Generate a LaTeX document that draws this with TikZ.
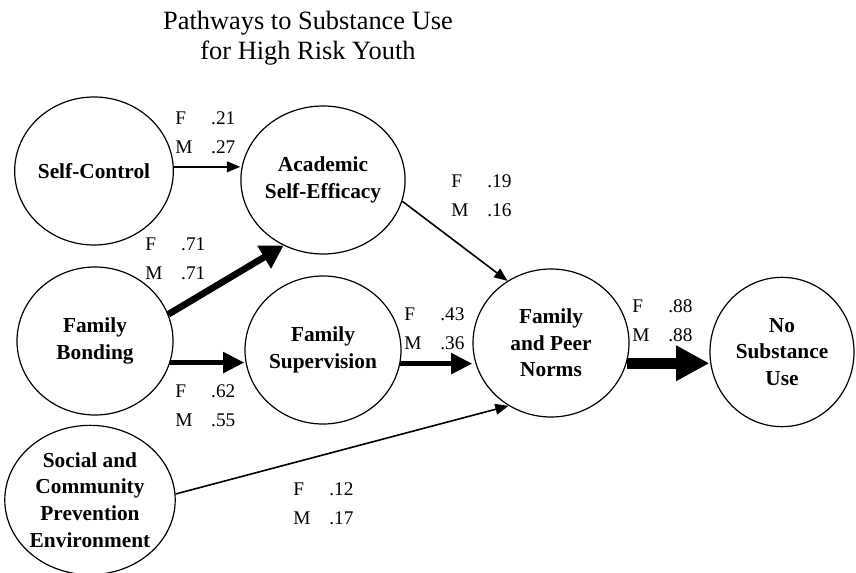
\documentclass[tikz,border=0pt]{standalone}
\usepackage{fontspec}
\setmainfont{Liberation Serif}
\usetikzlibrary{shapes.geometric,arrows.meta}
\tikzset{
    factor/.style={draw, ellipse, line width=0.9pt, inner sep=0pt, align=center,
        minimum width=117pt, minimum height=111pt,
        font=\bfseries\fontsize{16}{20}\selectfont},
    coef/.style={anchor=north west, inner sep=0pt, align=left,
        font=\fontsize{14.5}{22}\selectfont},
    thinpath/.style={line width=1.2pt, -{Triangle[length=10pt,width=8pt]}},
    midpath/.style={line width=4.3pt, -{Triangle[length=16pt,width=15pt]}},
    bigpath/.style={line width=5pt, -{Triangle[length=17pt,width=19pt]}},
    fatpath/.style={line width=8pt, -{Triangle[length=25pt,width=25pt]}}
}
\newcommand{\fmpair}[2]{\makebox[27pt][l]{F}#1\\\makebox[27pt][l]{M}#2}
\begin{document}
\begin{tikzpicture}[x=0.75pt, y=-0.75pt]
        \useasboundingbox (0,0) rectangle (856,573);
        \node (title) [align=center, font=\fontsize{19.8}{22.5}\selectfont] at (308,38) {Pathways to Substance Use\\for High Risk Youth};
        \node (sc) [factor] at (94,171) {Self-Control};
        \node (ase) [factor] at (323,180) {Academic\\Self-Efficacy};
        \node (fb) [factor] at (95,341) {Family\\Bonding};
        \node (fs) [factor] at (323,350) {Family\\Supervision};
        \node (fpn) [factor] at (551,343) {Family\\and Peer\\Norms};
        \node (nsu) [factor, minimum width=108pt, minimum height=112pt] at (782,352) {No\\Substance\\Use};
        \node (soc) [factor, minimum width=124pt, minimum height=112pt] at (90,500) {Social and\\Community\\Prevention\\Environment};
        \draw [thinpath] (sc.3) -- (sc.3 -| ase.west);
        \draw [thinpath] (ase.-15) -- (fpn.125);
        \draw [bigpath] (fb.20) -- (ase.239);
        \draw [midpath] (fb.-16) -- (fb.-16 -| fs.west);
        \draw [midpath] (fs.-10) -- (fs.-10 -| fpn.west);
        \draw [fatpath] (fpn.-15) -- (fpn.-15 -| nsu.west);
        \draw [thinpath] (soc.4) -- (fpn.236);
        \node (cSC) [coef] at (175,111) {\fmpair{.21}{.27}};
        \node (cFBase) [coef] at (145,237) {\fmpair{.71}{.71}};
        \node (cFBfs) [coef] at (175,384) {\fmpair{.62}{.55}};
        \node (cASE) [coef] at (451,174) {\fmpair{.19}{.16}};
        \node (cFS) [coef] at (404,307) {\fmpair{.43}{.36}};
        \node (cFPN) [coef] at (632,299) {\fmpair{.88}{.88}};
        \node (cSOC) [coef] at (293,482) {\fmpair{.12}{.17}};
    \end{tikzpicture}
\end{document}
